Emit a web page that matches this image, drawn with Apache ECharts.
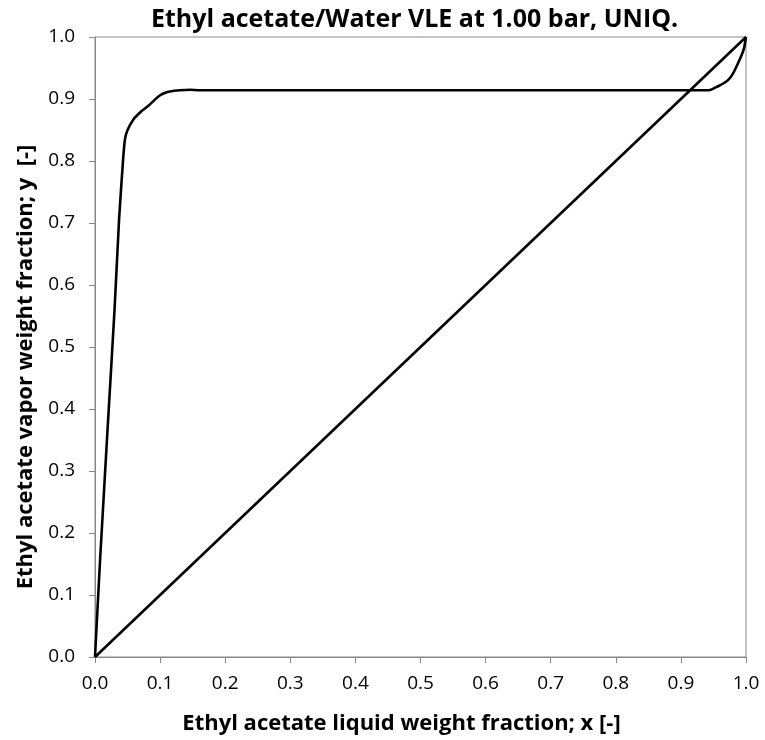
<!DOCTYPE html>
<html>
<head>
<meta charset="utf-8">
<script src="https://cdn.jsdelivr.net/npm/echarts@6/dist/echarts.min.js"></script>
<style>html,body{margin:0;padding:0;background:#fff}#c{width:765px;height:740px}</style>
</head>
<body>
<div id="c"></div>
<script>
var titleText = 'Ethyl acetate/Water VLE at 1.00 bar, UNIQ.';
var xName = 'Ethyl acetate liquid weight fraction; x [-]';
var yName = 'Ethyl acetate vapor weight fraction; y  [-]';
// VLE curve: liquid weight fraction x, vapor weight fraction y
var xLiquid = [0, 0.008, 0.02, 0.03, 0.037, 0.043, 0.046, 0.05, 0.059, 0.07, 0.082, 0.092, 0.1, 0.108, 0.115, 0.13, 0.146, 0.16, 0.2, 0.3, 0.4, 0.5, 0.6, 0.7, 0.8, 0.9, 0.94, 0.946, 0.952, 0.958, 0.965, 0.972, 0.98, 0.987, 0.993, 0.997, 1.0];
var yVapor  = [0, 0.16, 0.38, 0.56, 0.706, 0.8, 0.835, 0.85, 0.867, 0.879, 0.889, 0.899, 0.906, 0.91, 0.912, 0.914, 0.915, 0.914, 0.914, 0.914, 0.914, 0.914, 0.914, 0.914, 0.914, 0.914, 0.914, 0.915, 0.918, 0.921, 0.925, 0.93, 0.941, 0.956, 0.97, 0.982, 1.0];
// 45-degree reference line
var xDiag = [0, 1];
var yDiag = [0, 1];
var tickLabels = ['0.0','0.1','0.2','0.3','0.4','0.5','0.6','0.7','0.8','0.9','1.0'];

var curve = xLiquid.map(function(x, i){ return [x, yVapor[i]]; });
var diag = xDiag.map(function(x, i){ return [x, yDiag[i]]; });
var FONT = 'Open Sans';
function fmt(v){ return tickLabels[Math.round(v * 10)]; }

var chart = echarts.init(document.getElementById('c'), null, {renderer:'canvas'});
chart.setOption({
  animation: false,
  backgroundColor: '#fff',
  title: {
    text: titleText, left: 146, top: 2,
    textStyle: {fontFamily: FONT, fontSize: 25, fontWeight: 'bold', color: '#000'}
  },
  grid: {left: 95, right: 19, top: 37, bottom: 81, show: true, borderColor: '#888', borderWidth: 1},
  xAxis: {
    type: 'value', min: 0, max: 1, interval: 0.1,
    name: xName, nameLocation: 'middle', nameGap: 56,
    nameTextStyle: {fontFamily: FONT, fontSize: 22, fontWeight: 'bold', color: '#000', padding: [0, 38, 0, 0]},
    axisLine: {show: true, lineStyle: {color: '#888', width: 1}},
    axisTick: {show: true, inside: false, length: 6, lineStyle: {color: '#888'}},
    axisLabel: {margin: 17, fontFamily: FONT, fontSize: 19, color: '#000', formatter: fmt},
    splitLine: {show: false}
  },
  yAxis: {
    type: 'value', min: 0, max: 1, interval: 0.1,
    name: yName, nameLocation: 'middle', nameGap: 58, nameRotate: 90,
    nameTextStyle: {fontFamily: FONT, fontSize: 22, fontWeight: 'bold', color: '#000', padding: [0, 40, 0, 0]},
    axisLine: {show: true, lineStyle: {color: '#888', width: 1}},
    axisTick: {show: true, inside: false, length: 6, lineStyle: {color: '#888'}},
    axisLabel: {margin: 20, fontFamily: FONT, fontSize: 19, color: '#000', formatter: fmt},
    splitLine: {show: false}
  },
  series: [
    {type: 'line', data: curve, showSymbol: false, symbol: 'none', smooth: 0.2,
     lineStyle: {color: '#000', width: 2.6}},
    {type: 'line', data: diag, showSymbol: false, symbol: 'none',
     lineStyle: {color: '#000', width: 2.6}}
  ]
});
</script>
</body>
</html>
